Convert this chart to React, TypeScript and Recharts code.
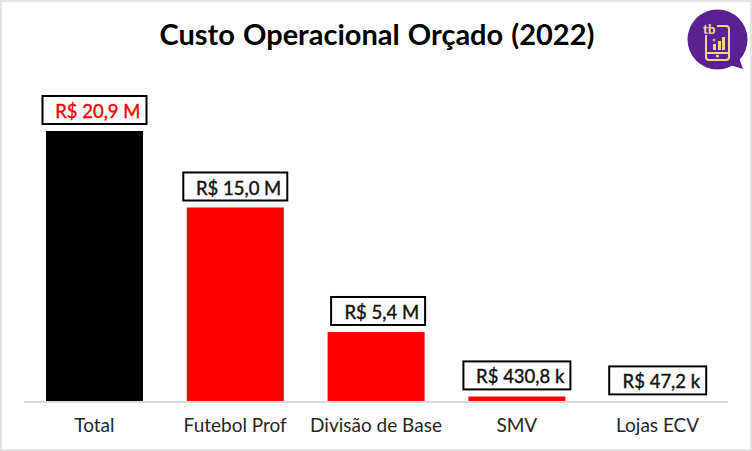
import { Bar, BarChart, Cell, LabelList, XAxis, YAxis } from "recharts";

const categories = ["Total", "Futebol Prof", "Divisão de Base", "SMV", "Lojas ECV"];
const custos = [20900000, 15000000, 5400000, 430800, 47200];
const rotulos = ["R$ 20,9 M", "R$ 15,0 M", "R$ 5,4 M", "R$ 430,8 k", "R$ 47,2 k"];
const data = categories.map((name, i) => ({ name, custo: custos[i], rotulo: rotulos[i] }));

const FONT = "Lato, sans-serif";
const boxWidth = [104, 104, 94, 107, 97];
const boxShift = [0, 0, 2, 0, 0];

// caixa do rótulo, sempre 7px acima da barra
function BoxLabel(props: any) {
  const { x, y, width, index } = props;
  const w = boxWidth[index];
  const cx = x + width / 2 + boxShift[index];
  const top = y - 35;
  const color = index === 0 ? "#ff0000" : "#111";
  return (
    <g>
      <rect x={cx - w / 2} y={top} width={w} height={28} fill="#fff" stroke="#000" strokeWidth={2} />
      <text
        x={cx + w / 2 - 6}
        y={top + 22}
        textAnchor="end"
        fontFamily={FONT}
        fontSize={18.5}
        fill={color}
        stroke={color}
        strokeWidth={0.4}
      >
        {rotulos[index]}
      </text>
    </g>
  );
}

function Logo() {
  return (
    <svg width={66} height={66} viewBox="0 0 66 66" style={{ position: "absolute", left: 686, top: 9 }}>
      <circle cx={31.5} cy={30.5} r={30} fill="#5b2193" />
      <path d="M44 56 L57 60 L52 46 Z" fill="#5b2193" />
      <rect x={20} y={17} width={23} height={34} rx={3} fill="none" stroke="#f2d67f" strokeWidth={2} />
      <rect x={17} y={14} width={14} height={12} fill="#5b2193" />
      <text x={17} y={25} fontFamily={FONT} fontSize={13} fontWeight={900} fill="#f2d67f">tb</text>
      <path d="M27 41 h3 v-6 h-3 Z M32 41 h3 v-9 h-3 Z M36 41 h3 v-13 h-3 Z" fill="#f2d67f" />
      <circle cx={28} cy={31} r={1.5} fill="#b9a6a0" />
      <rect x={20} y={43} width={23} height={2} fill="#f2d67f" />
      <circle cx={31.5} cy={47} r={1.6} fill="#f2d67f" />
    </svg>
  );
}

export default function App() {
  return (
    <div
      style={{
        position: "absolute",
        left: 0,
        top: 0,
        width: 752,
        height: 451,
        boxSizing: "border-box",
        border: "2px solid #e4e4e4",
        background: "#fff",
      }}
    >
      <div style={{ position: "absolute", left: -2, top: -2, width: 752, height: 451 }}>
        <div
          style={{
            position: "absolute",
            left: 0,
            width: 754,
            top: 16,
            textAlign: "center",
            fontFamily: FONT,
            fontWeight: 700,
            fontSize: 29,
            wordSpacing: 1,
            color: "#000",
            whiteSpace: "nowrap",
          }}
        >
          Custo Operacional Orçado (2022)
        </div>
        <BarChart
          width={752}
          height={451}
          data={data}
          margin={{ top: 131, right: 24, bottom: 0, left: 24 }}
          barSize={97}
          style={{ position: "absolute", left: 0, top: 0 }}
        >
          <XAxis
            dataKey="name"
            interval={0}
            tickLine={false}
            axisLine={{ stroke: "#d9d9d9", strokeWidth: 2 }}
            tick={{ fill: "#262626", fontSize: 19, fontFamily: FONT }}
            tickMargin={11}
            height={49}
          />
          <YAxis hide domain={[0, 20900000]} />
          <Bar dataKey="custo" isAnimationActive={false}>
            {data.map((d, i) => (
              <Cell key={d.name} fill={i === 0 ? "#000000" : "#ff0000"} />
            ))}
            <LabelList dataKey="rotulo" content={BoxLabel} />
          </Bar>
        </BarChart>
        <Logo />
      </div>
    </div>
  );
}
